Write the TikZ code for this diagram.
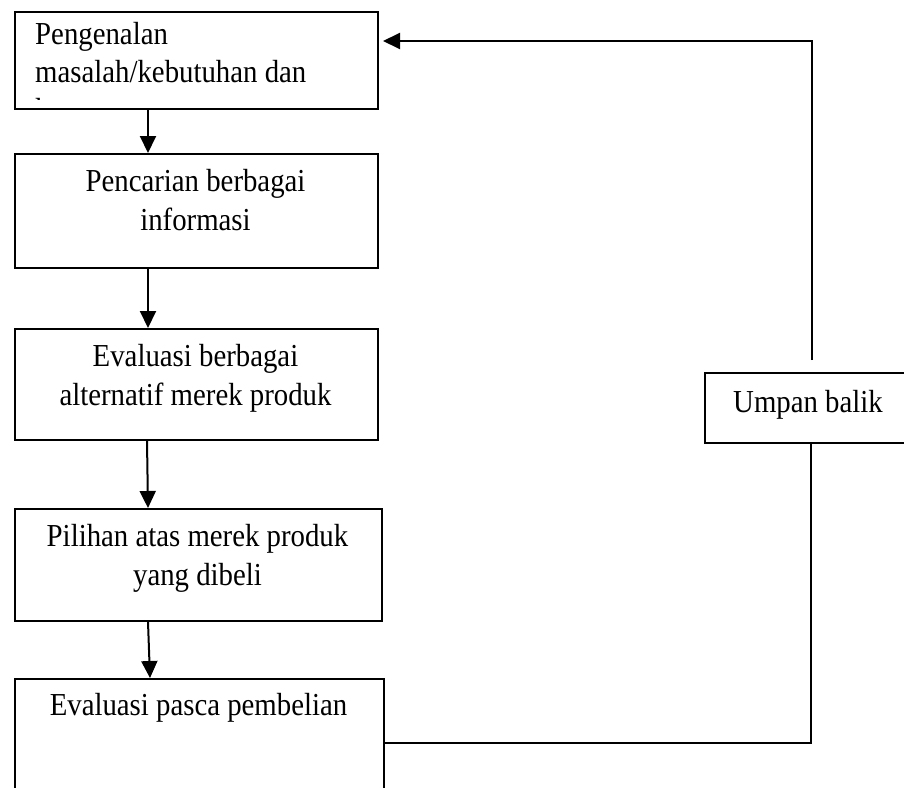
\documentclass[tikz,border=0pt]{standalone}
\usepackage{fontspec}
\setmainfont{Liberation Serif}[FakeStretch=0.9]
\usetikzlibrary{arrows.meta}
\begin{document}
\begin{tikzpicture}[x=1pt,y=-1pt,
  box/.style={draw, line width=2pt, rectangle, inner sep=0pt, anchor=north west},
  conn/.style={line width=2pt, -{Triangle[width=16pt,length=17pt]}},
  plain/.style={line width=2pt},
  lbl/.style={font=\fontsize{32}{38}\selectfont, inner sep=0pt, anchor=base},
  lbll/.style={lbl, anchor=base west}]
\useasboundingbox (0,0) rectangle (904,787);
\clip (0,0) rectangle (904,787);
% boxes
\node[box, minimum width=363pt, minimum height=97pt]  (b1) at (14,11) {};
\node[box, minimum width=363pt, minimum height=114pt] (b2) at (14,153) {};
\node[box, minimum width=363pt, minimum height=111pt] (b3) at (14,328) {};
\node[box, minimum width=367pt, minimum height=112pt] (b4) at (14,508) {};
\node[box, minimum width=369pt, minimum height=130pt] (b5) at (14,678) {};
\node[box, minimum width=250pt, minimum height=70pt]  (ub) at (704,372) {};
% texts
\node[lbll] (t1a) at (35,44) {Pengenalan};
\node[lbll] (t1b) at (35,82) {masalah/kebutuhan dan};
\begin{scope}
  \clip (14,11) rectangle (50,99.5);
  \node[lbll] (t1c) at (35,120) {keinginan};
\end{scope}
\node[lbl] (t2a) at (195.5,191) {Pencarian berbagai};
\node[lbl] (t2b) at (195.5,230) {informasi};
\node[lbl] (t3a) at (195.5,366) {Evaluasi berbagai};
\node[lbl] (t3b) at (195.5,405) {alternatif merek produk};
\node[lbl] (t4a) at (197.5,546) {Pilihan atas merek produk};
\node[lbl] (t4b) at (197.5,585) {yang dibeli};
\node[lbl] (t5a) at (198.5,715) {Evaluasi pasca pembelian};
\node[lbl] (tub) at (808,412) {Umpan balik};
% connectors
\draw[conn] ([xshift=134pt]b1.south west) -- ([xshift=134pt]b2.north west);
\draw[conn] ([xshift=134pt]b2.south west) -- ([xshift=134pt]b3.north west);
\draw[conn] ([xshift=133pt]b3.south west) -- ([xshift=134pt]b4.north west);
\draw[conn] ([xshift=134pt]b4.south west) -- ([xshift=136pt]b5.north west);
\draw[conn] ([xshift=108pt,yshift=12pt]ub.north west) |- ([xshift=4pt,yshift=-30pt]b1.north east);
\draw[plain] ([xshift=107pt]ub.south west) |- ([yshift=-65pt]b5.north east);
\end{tikzpicture}
\end{document}
